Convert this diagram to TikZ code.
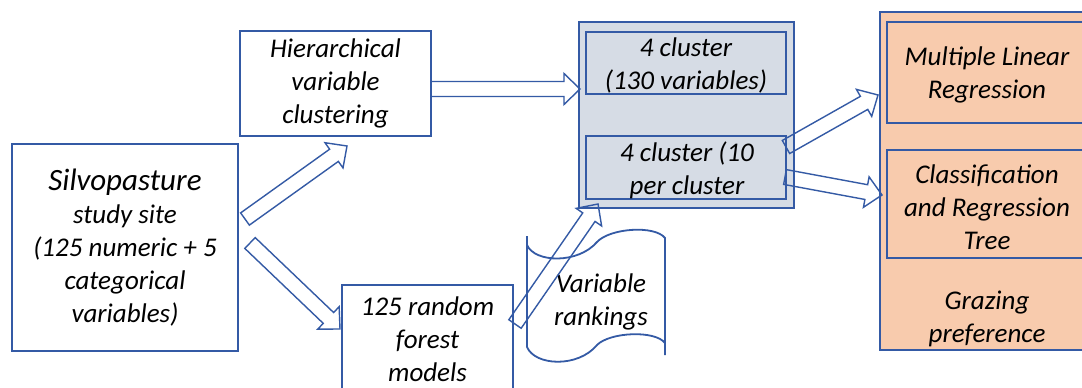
\documentclass[tikz,border=0pt]{standalone}
\usepackage{fontspec}
\setmainfont{Carlito}
\usetikzlibrary{calc}
\definecolor{bl}{RGB}{52,90,165}
\definecolor{gfill}{RGB}{214,220,229}
\definecolor{ofill}{RGB}{248,203,173}
\tikzset{
  box/.style={draw=bl, line width=2.4pt, inner sep=0pt, align=center,
    font=\itshape\fontsize{27}{33}\selectfont},
  txt/.style={align=center, inner sep=0pt, font=\itshape\fontsize{27}{33}\selectfont},
  barr/.style={draw=bl, line width=1.4pt, line join=miter},
  tape/.style={draw=bl, line width=1.8pt},
}
\newcommand\blockarrow[2]{%
  \coordinate (#1-hb) at ($(#2)!16pt!(#1)$);
  \draw[barr] ($(#1)!7.5pt!90:(#2)$) -- ($(#1-hb)!7.5pt!90:(#2)$)
    -- ($(#1-hb)!15.5pt!90:(#2)$) -- (#2) -- ($(#1-hb)!15.5pt!-90:(#2)$)
    -- ($(#1-hb)!7.5pt!-90:(#2)$) -- ($(#1)!7.5pt!-90:(#2)$) -- cycle;}
\begin{document}
\begin{tikzpicture}[x=1pt,y=-1pt]
\useasboundingbox (0,0) rectangle (1082,388);
\clip (0,0) rectangle (1082,388);
\fill[white] (0,0) rectangle (1082,388);
% boxes
\node[box, minimum width=226pt, minimum height=207pt] (site) at (125,247.5)
  {{\fontsize{31}{33}\selectfont Silvopasture}\\study site\\(125 numeric + 5\\categorical\\variables)};
\node[box, minimum width=191pt, minimum height=105pt] (hier) at (335.5,83.5)
  {Hierarchical\\variable\\clustering};
\node[box, fill=gfill, minimum width=215pt, minimum height=186pt] (clu) at (686.5,115) {};
\node[box, minimum width=200pt, minimum height=62pt] (c1) at (686,63) {};
\node[box, minimum width=200pt, minimum height=63pt] (c2) at (686,167.5) {};
\node[txt] (c1t) at (686,65) {4 cluster\\(130 variables)};
\node[txt] (c2t) at (687,170) {4 cluster (10\\per cluster};
\node[box, fill=ofill, minimum width=214pt, minimum height=338pt] (mod) at (987,181) {};
\node[box, minimum width=200pt, minimum height=101pt] (m1) at (987,72.5) {};
\node[box, minimum width=200pt, minimum height=108pt] (m2) at (987,204) {};
\node[txt] (m1t) at (987,74.5) {Multiple Linear\\Regression};
\node[txt] (m2t) at (987,207) {Classification\\and Regression\\Tree};
\node[txt] (gz) at (987,318.5) {Grazing\\preference};
\node[box, minimum width=171pt, minimum height=135pt] (rf) at (427.5,352.5) {};
\node[txt] (rft) at (427.5,339) {125 random\\forest\\models};
% tape
\draw[tape] (527,236) -- (527,347)
  .. controls (535,366) and (578,368) .. (597,345)
  .. controls (610,332) and (655,330) .. (665,343) -- (665,355);
\draw[tape] (527,245) .. controls (535,263) and (578,264) .. (597,242)
  .. controls (610,228) and (655,225) .. (665,238) -- (665,343);
\node[txt] (rank) at (601,302) {Variable\\rankings};
% arrows
\coordinate (a1s) at (245,219); \coordinate (a1e) at (347,146);
\coordinate (a2s) at (250,243); \coordinate (a2e) at (340,329);
\coordinate (a3s) at (431,89);  \coordinate (a3e) at (580,89);
\coordinate (a4s) at (515,324); \coordinate (a4e) at (598,204);
\coordinate (a5s) at (786,147); \coordinate (a5e) at (878,95);
\coordinate (a6s) at (785,177); \coordinate (a6e) at (882,195);
\blockarrow{a1s}{a1e}
\blockarrow{a2s}{a2e}
\blockarrow{a3s}{a3e}
\blockarrow{a4s}{a4e}
\blockarrow{a5s}{a5e}
\blockarrow{a6s}{a6e}
\end{tikzpicture}
\end{document}
